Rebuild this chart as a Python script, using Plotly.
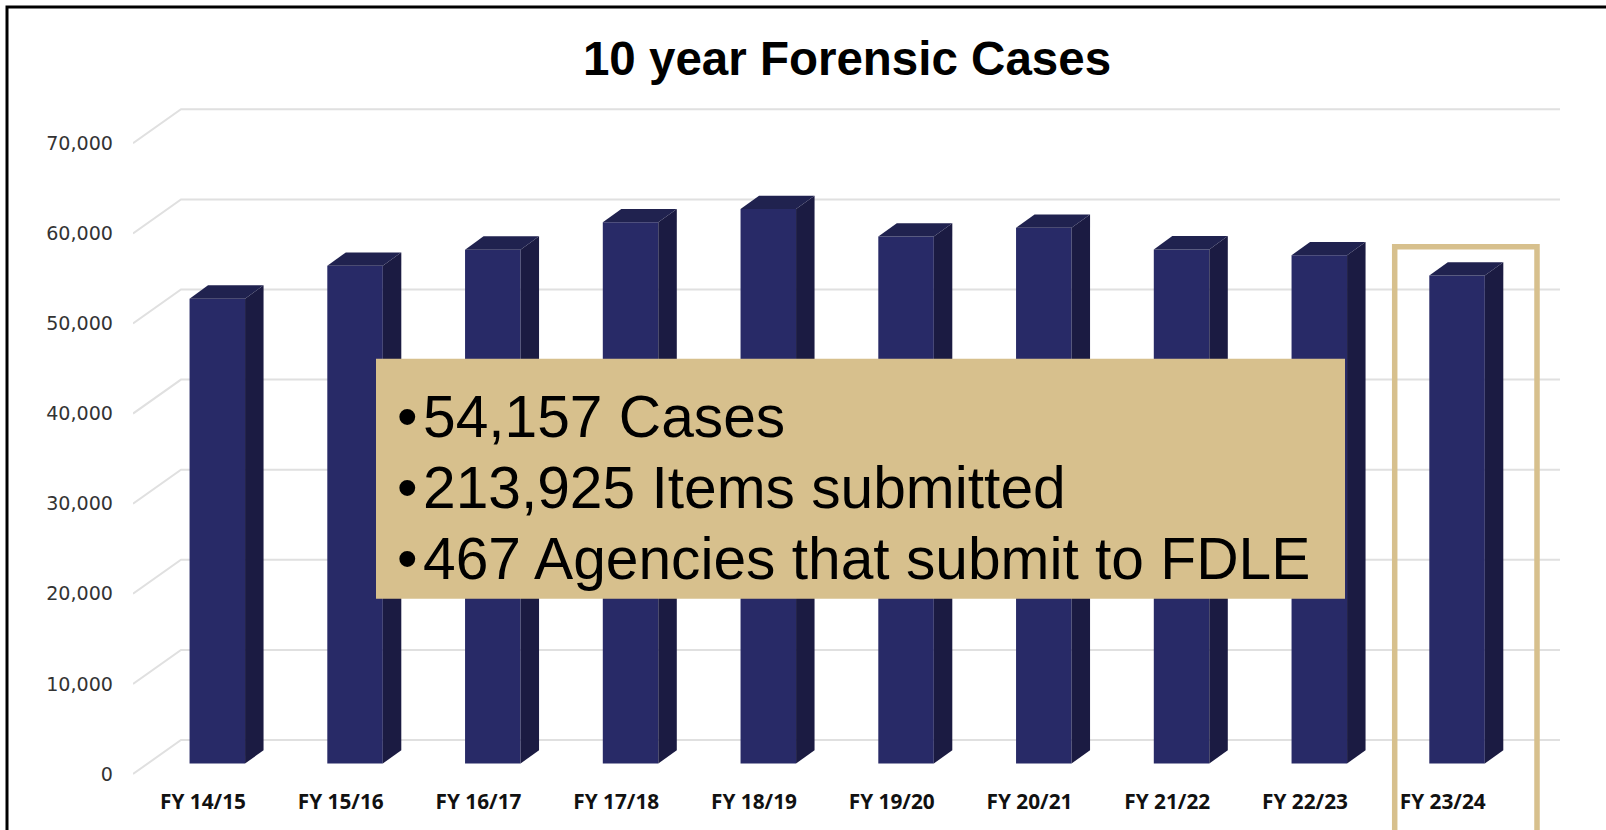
import plotly.graph_objects as go

categories = ["FY 14/15", "FY 15/16", "FY 16/17", "FY 17/18", "FY 18/19",
              "FY 19/20", "FY 20/21", "FY 21/22", "FY 22/23", "FY 23/24"]
cases = [51590, 55250, 57030, 60060, 61550, 58480, 59450, 57060, 56410, 54157]
y_ticks = [0, 10000, 20000, 30000, 40000, 50000, 60000, 70000]
callouts = ["54,157 Cases", "213,925 Items submitted", "467 Agencies that submit to FDLE"]

W, H = 1606, 830
L, R, T, B = 133, 1560, 92, 787          # plot area in page pixels
PX_PER_CAT = 137.75
PX_PER_VAL = 90.1 / 10000
LABEL_X0 = 203.0       # page x of category 0 label
BAR_X0 = 217.3         # page x of category 0 bar front
WALL_Y0 = 774.0        # page y of value 0 on the front edge of the wall
BAR_Y0 = 763.5         # page y of value 0 at the bar front

NAVY, NAVY_SIDE, NAVY_TOP = "#282A67", "#1B1B42", "#20224F"
GRID, GOLD = "#E0E0E0", "#D7C08D"


def px_x(px):
    return (px - L) / (R - L)


def px_y(px):
    return 1 - (px - T) / (B - T)


x_range = [(L - LABEL_X0) / PX_PER_CAT, (R - LABEL_X0) / PX_PER_CAT]
x2_range = [(L - BAR_X0) / PX_PER_CAT, (R - BAR_X0) / PX_PER_CAT]
y_range = [(WALL_Y0 - B) / PX_PER_VAL, (WALL_Y0 - T) / PX_PER_VAL]
y2_range = [(BAR_Y0 - B) / PX_PER_VAL, (BAR_Y0 - T) / PX_PER_VAL]

wall_dx, wall_dy = 48 / PX_PER_CAT, 34 / PX_PER_VAL
bar_half = 27.75 / PX_PER_CAT
depth_dx, depth_dy = 18.5 / PX_PER_CAT, 13.3 / PX_PER_VAL

fig = go.Figure()

for v in y_ticks:
    fig.add_trace(go.Scatter(
        x=[x_range[0], x_range[0] + wall_dx, x_range[1]],
        y=[v, v + wall_dy, v + wall_dy],
        mode="lines", line=dict(color=GRID, width=2),
        hoverinfo="skip", showlegend=False, xaxis="x", yaxis="y"))

for i, v in enumerate(cases):
    xl, xr = i - bar_half, i + bar_half
    fig.add_trace(go.Scatter(
        x=[xr, xr + depth_dx, xr + depth_dx, xr, xr],
        y=[0, depth_dy, v + depth_dy, v, 0],
        mode="lines", fill="toself", fillcolor=NAVY_SIDE, line=dict(width=0),
        hoverinfo="skip", showlegend=False, xaxis="x2", yaxis="y2"))
    fig.add_trace(go.Scatter(
        x=[xl, xl + depth_dx, xr + depth_dx, xr, xl],
        y=[v, v + depth_dy, v + depth_dy, v, v],
        mode="lines", fill="toself", fillcolor=NAVY_TOP, line=dict(width=0),
        hoverinfo="skip", showlegend=False, xaxis="x2", yaxis="y2"))

fig.add_trace(go.Bar(
    x=list(range(len(cases))), y=cases, width=2 * bar_half,
    marker=dict(color=NAVY, line=dict(width=0)),
    showlegend=False, xaxis="x2", yaxis="y2"))

fig.update_layout(
    width=W, height=H, autosize=False,
    margin=dict(l=L, r=W - R, t=T, b=H - B),
    paper_bgcolor="white", plot_bgcolor="white", showlegend=False,
    xaxis=dict(range=x_range, tickmode="array", tickvals=list(range(len(categories))),
               ticktext=categories, showgrid=False, zeroline=False, showline=False,
               ticks="", tickangle=0, ticklabelstandoff=0,
               tickfont=dict(family="Open Sans", size=20.8, weight="bold", color="#111111")),
    yaxis=dict(range=y_range, tickmode="array", tickvals=y_ticks,
               ticktext=[f"{v:,}" for v in y_ticks], showgrid=False, zeroline=False,
               showline=False, ticks="", ticklabelstandoff=19,
               tickfont=dict(family="DejaVu Sans", size=19.1, color="#333333")),
    xaxis2=dict(range=x2_range, overlaying="x", visible=False),
    yaxis2=dict(range=y2_range, overlaying="y", visible=False),
    title=dict(text="<b>10 year Forensic Cases</b>", x=px_x(847), xref="paper",
               xanchor="center", y=1 - 58 / H, yanchor="middle",
               font=dict(family="Liberation Sans", size=47.5, color="black")),
)

# page frame, highlight box and callout panel
bottom = px_y(840)
fig.add_shape(type="path", xref="paper", yref="paper",
              path=f"M {px_x(7)} {bottom} L {px_x(7)} {px_y(7)} L {px_x(1620)} {px_y(7)}",
              line=dict(color="black", width=3))
fig.add_shape(type="path", xref="paper", yref="paper",
              path=(f"M {px_x(1394.7)} {bottom} L {px_x(1394.7)} {px_y(246.7)} "
                    f"L {px_x(1537)} {px_y(246.7)} L {px_x(1537)} {bottom}"),
              line=dict(color=GOLD, width=5.5))
fig.add_shape(type="rect", xref="paper", yref="paper",
              x0=px_x(376), x1=px_x(1345), y0=px_y(358.8), y1=px_y(598.8),
              fillcolor=GOLD, line=dict(width=0))

for page_y, text in zip([416.5, 487.3, 558.1], callouts):
    fig.add_annotation(text="•", xref="paper", yref="paper",
                       x=px_x(395), y=px_y(page_y), xanchor="left", yanchor="middle",
                       showarrow=False,
                       font=dict(family="Liberation Sans", size=58.7, color="black"))
    fig.add_annotation(text=text, xref="paper", yref="paper",
                       x=px_x(421), y=px_y(page_y), xanchor="left", yanchor="middle",
                       showarrow=False,
                       font=dict(family="Liberation Sans", size=58.7, color="black"))

fig.write_html("out.html", config=dict(displayModeBar=False),
               post_script="document.body.style.margin='0';")
